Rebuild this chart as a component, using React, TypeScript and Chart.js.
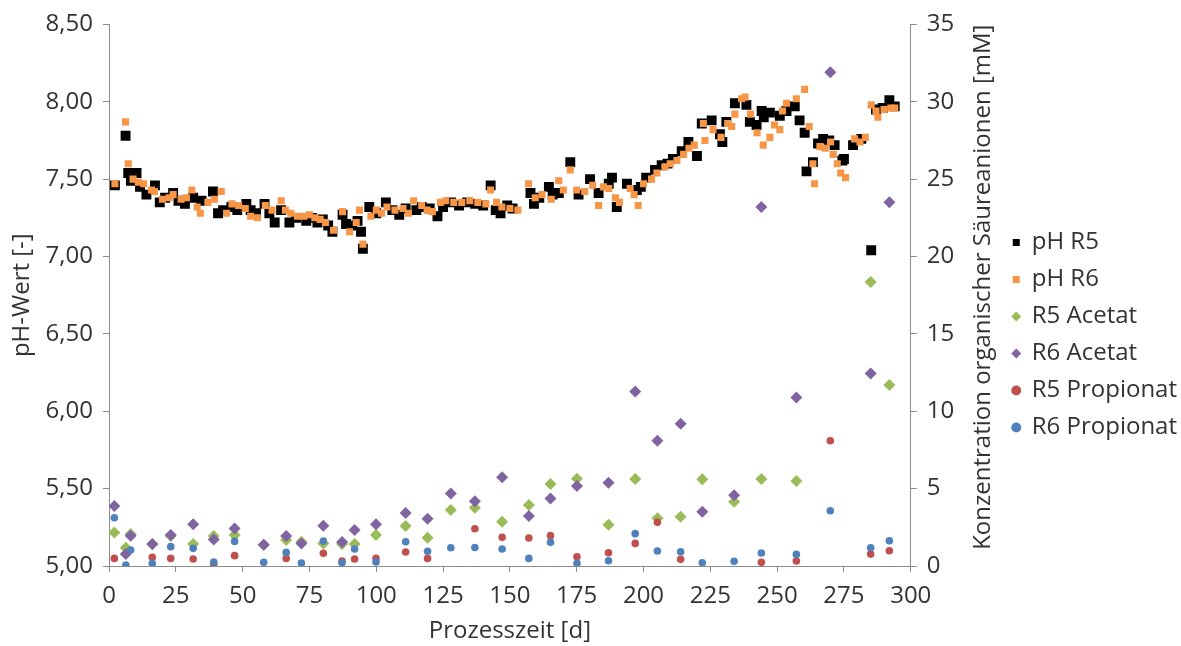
import React, { useEffect, useRef } from 'react';
import { Chart, registerables } from 'chart.js';

Chart.register(...registerables);

// ---- data ----
const phR5Days = [2.2, 6.2, 7.2, 8.2, 10.3, 11.6, 14, 17.2, 19, 21, 24, 26, 28.4, 31.5, 34.6, 38.9, 40.8, 42.7, 45.8, 48, 51.4, 53, 55, 58.2, 60, 62, 64.4, 67.5, 70, 73.8, 76, 78, 80, 82, 83.6, 87.4, 88.7, 91, 93, 94.3, 95, 97.4, 100, 103.6, 106, 108.6, 111, 115, 117, 120, 122.9, 125, 128, 131, 134, 137, 140, 142.8, 144.7, 146.5, 149, 151, 157.7, 159, 161, 164.6, 166, 168.3, 172.6, 175.7, 180, 183.2, 187, 188.2, 190, 193.8, 197.5, 199, 201, 204.3, 206.8, 209, 211, 214.3, 216.8, 220, 221.8, 225.5, 228.6, 229.5, 231, 234.2, 238.5, 239.8, 242.3, 244.2, 245, 247.3, 251, 253.5, 256.6, 258.4, 260.3, 261, 263.4, 265.3, 267.2, 269.5, 271.5, 274.4, 275, 278.4, 281.5, 285.2, 287, 289.5, 292, 294];
const phR5Values = [7.46, 7.78, 7.54, 7.49, 7.54, 7.45, 7.40, 7.46, 7.35, 7.38, 7.41, 7.36, 7.34, 7.38, 7.36, 7.42, 7.28, 7.30, 7.32, 7.30, 7.34, 7.30, 7.28, 7.34, 7.28, 7.22, 7.30, 7.22, 7.25, 7.23, 7.25, 7.22, 7.24, 7.20, 7.16, 7.27, 7.21, 7.20, 7.23, 7.16, 7.05, 7.32, 7.28, 7.35, 7.30, 7.27, 7.31, 7.30, 7.32, 7.31, 7.26, 7.32, 7.35, 7.33, 7.35, 7.34, 7.33, 7.46, 7.30, 7.28, 7.33, 7.31, 7.41, 7.34, 7.38, 7.45, 7.40, 7.41, 7.61, 7.40, 7.50, 7.41, 7.47, 7.51, 7.32, 7.47, 7.43, 7.45, 7.51, 7.56, 7.59, 7.60, 7.63, 7.68, 7.74, 7.65, 7.86, 7.88, 7.79, 7.74, 7.87, 7.99, 7.98, 7.87, 7.85, 7.94, 7.90, 7.93, 7.91, 7.94, 7.97, 7.88, 7.80, 7.55, 7.61, 7.73, 7.76, 7.75, 7.72, 7.62, 7.63, 7.72, 7.76, 7.04, 7.95, 7.96, 8.01, 7.97];

const phR6Days = [2.2, 6.2, 7.2, 9, 11, 13, 15.9, 17, 20, 22.5, 24, 27, 29, 31, 33, 34.2, 37, 39.5, 42, 44, 46, 48.5, 51, 53, 55.5, 58.5, 61, 64.4, 66, 68, 70.5, 73, 75, 77, 79, 81, 84, 87.4, 90, 92.5, 93.7, 95, 98, 100, 102, 104, 107, 110, 112, 114, 117, 119, 121, 124, 126, 129, 132, 135, 138, 141, 142.8, 145, 147, 150, 153, 157, 159.5, 162, 165.5, 168.3, 170, 172.6, 175, 178, 181, 183.2, 185, 187, 189.5, 191, 195, 196.5, 198, 200, 203, 205, 208, 210, 212.5, 215, 217, 219, 222.4, 223, 226, 229, 231.5, 233, 234.2, 236.7, 238, 240, 242.5, 244.8, 247.3, 249, 251, 252, 253.5, 257.2, 260.3, 262, 263.4, 264, 266, 268, 270, 271, 272.5, 273.8, 275.6, 279, 281, 283, 285.2, 287, 287.7, 290, 292.6, 294];
const phR6Values = [7.47, 7.87, 7.60, 7.50, 7.48, 7.47, 7.43, 7.42, 7.37, 7.38, 7.40, 7.37, 7.38, 7.43, 7.32, 7.28, 7.35, 7.37, 7.42, 7.28, 7.34, 7.33, 7.31, 7.26, 7.25, 7.33, 7.30, 7.36, 7.30, 7.28, 7.26, 7.26, 7.27, 7.25, 7.24, 7.22, 7.17, 7.29, 7.16, 7.22, 7.30, 7.08, 7.26, 7.30, 7.28, 7.32, 7.30, 7.31, 7.28, 7.36, 7.33, 7.30, 7.29, 7.35, 7.36, 7.35, 7.35, 7.36, 7.35, 7.34, 7.43, 7.35, 7.32, 7.31, 7.30, 7.47, 7.38, 7.40, 7.37, 7.49, 7.43, 7.56, 7.43, 7.42, 7.46, 7.33, 7.45, 7.44, 7.38, 7.35, 7.44, 7.40, 7.33, 7.47, 7.50, 7.54, 7.58, 7.60, 7.62, 7.66, 7.70, 7.72, 7.86, 7.75, 7.82, 7.77, 7.86, 7.84, 7.92, 8.02, 8.03, 7.92, 7.80, 7.72, 7.77, 7.85, 7.82, 7.94, 7.99, 8.02, 8.08, 7.84, 7.60, 7.47, 7.71, 7.70, 7.74, 7.66, 7.60, 7.54, 7.51, 7.76, 7.74, 7.77, 7.98, 7.94, 7.90, 7.95, 7.96, 7.96];

const acidDays = [2, 6.3, 8.1, 16.2, 23.1, 31.5, 39.2, 47, 57.9, 66.3, 72, 80.2, 87.2, 91.9, 99.9, 111, 119.2, 127.9, 136.9, 147.1, 157.1, 165.2, 175.1, 186.9, 196.9, 205.2, 213.9, 222, 233.9, 244.1, 257.2, 269.9, 285, 292];
const r5Acetat = [2.17, 1.18, 2.07, 1.40, 1.94, 1.42, 1.94, 2.0, 1.38, 1.68, 1.57, 1.46, 1.42, 1.42, 2.0, 2.58, 1.83, 3.62, 3.77, 2.86, 3.94, 5.30, 5.64, 2.67, 5.62, 3.08, 3.18, 5.60, 4.15, 5.62, 5.49, null, 18.36, 11.69];
const r6Acetat = [3.87, 0.77, 1.96, 1.42, 2.0, 2.69, 1.72, 2.43, 1.38, 1.94, 1.46, 2.60, 1.55, 2.32, 2.69, 3.42, 3.06, 4.69, 4.18, 5.73, 3.23, 4.37, 5.17, 5.38, 11.28, 8.09, 9.19, 3.51, 4.58, 23.2, 10.89, 31.9, 12.44, 23.5];
const r5Propionat = [0.49, null, null, 0.56, 0.49, 0.45, 0.13, 0.67, null, 0.49, null, 0.82, 0.32, 0.45, 0.49, 0.90, 0.49, null, 2.41, 1.85, 1.81, 1.96, 0.60, 0.86, 1.46, 2.82, 0.43, null, null, 0.24, 0.32, 8.09, 0.77, 0.99];
const r6Propionat = [3.12, 0.06, 1.03, 0.17, 1.25, 1.14, 0.26, 1.59, 0.24, 0.88, 0.19, 1.61, 0.21, 1.10, 0.26, 1.57, 0.95, 1.18, 1.20, 1.10, 0.49, 1.53, 0.17, 0.34, 2.09, 0.97, 0.92, 0.21, 0.30, 0.84, 0.75, 3.57, 1.18, 1.63];

const seriesNames = ['pH R5', 'pH R6', 'R5 Acetat', 'R6 Acetat', 'R5 Propionat', 'R6 Propionat'];
const xTitle = 'Prozesszeit [d]';
const yTitle = 'pH-Wert [-]';
const y2Title = 'Konzentration organischer Säureanionen [mM]';

const FONT = "'Open Sans', sans-serif";
const TEXT = '#333333';
const AXIS = '#8c8c8c';

const pts = (xs: number[], ys: (number | null)[]) =>
  xs.map((x, i) => ({ x, y: ys[i] })).filter((p) => p.y !== null);

const rightTitlePlugin = {
  id: 'rightTitle',
  afterDraw(chart: any) {
    const { ctx, chartArea } = chart;
    ctx.save();
    ctx.font = `24px ${FONT}`;
    ctx.fillStyle = TEXT;
    ctx.textAlign = 'center';
    ctx.textBaseline = 'middle';
    ctx.translate(chartArea.right + 72, (chartArea.top + chartArea.bottom) / 2 - 8);
    ctx.rotate(-Math.PI / 2);
    ctx.fillText(y2Title, 0, 0);
    ctx.restore();
  },
};

export default function App() {
  const ref = useRef<HTMLCanvasElement | null>(null);

  useEffect(() => {
    document.body.style.margin = '0';
    if (!ref.current) return;
    Chart.defaults.font.family = FONT;
    Chart.defaults.color = TEXT;

    const mk = (label: string, data: any[], color: string, style: string, radius: number, yAxisID: string, order: number) => ({
      label,
      data,
      backgroundColor: color,
      borderColor: color,
      pointStyle: style,
      pointRadius: radius,
      pointHoverRadius: radius,
      pointBorderWidth: 0,
      borderWidth: 0,
      yAxisID,
      order,
    });

    const chart = new Chart(ref.current, {
      type: 'scatter',
      data: {
        datasets: [
          mk(seriesNames[0], pts(phR5Days, phR5Values), '#000000', 'rect', 7, 'y', 6),
          mk(seriesNames[1], pts(phR6Days, phR6Values), '#F79646', 'rect', 5, 'y', 5),
          mk(seriesNames[2], pts(acidDays, r5Acetat), '#9BBB59', 'rectRot', 6, 'y2', 4),
          mk(seriesNames[3], pts(acidDays, r6Acetat), '#8064A2', 'rectRot', 6, 'y2', 3),
          mk(seriesNames[4], pts(acidDays, r5Propionat), '#C0504D', 'circle', 3.8, 'y2', 2),
          mk(seriesNames[5], pts(acidDays, r6Propionat), '#4F81BD', 'circle', 3.8, 'y2', 1),
        ] as any,
      },
      options: {
        animation: false,
        responsive: false,
        layout: { padding: { top: 24, left: 0, right: -6, bottom: 0 } },
        plugins: {
          tooltip: { enabled: false },
          legend: {
            position: 'right',
            align: 'center',
            labels: {
              usePointStyle: true,
              boxWidth: 7,
              boxHeight: 7,
              padding: 13,
              color: TEXT,
              font: { size: 24, family: FONT },
              sort: (a: any, b: any) => a.datasetIndex - b.datasetIndex,
            },
          },
        },
        scales: {
          x: {
            type: 'linear',
            position: 'bottom',
            min: 0,
            max: 300,
            ticks: { stepSize: 25, padding: 10, color: TEXT, font: { size: 24 } },
            grid: { drawOnChartArea: false, drawTicks: true, tickLength: 6, color: AXIS },
            border: { color: AXIS, width: 1 },
            title: { display: true, text: xTitle, color: TEXT, font: { size: 24 }, padding: { top: 0, bottom: 0 } },
            afterFit: (s: any) => { s.height = 80; },
          },
          y: {
            type: 'linear',
            position: 'left',
            min: 5,
            max: 8.5,
            ticks: {
              stepSize: 0.5,
              padding: 10,
              color: TEXT,
              font: { size: 24 },
              callback: (v: any) => Number(v).toFixed(2).replace('.', ','),
            },
            grid: { drawOnChartArea: false, drawTicks: true, tickLength: 6, color: AXIS },
            border: { color: AXIS, width: 1 },
            title: { display: true, text: yTitle, color: TEXT, font: { size: 24 }, padding: { top: 8, bottom: 0 } },
            afterFit: (s: any) => { s.width = 109; },
          },
          y2: {
            type: 'linear',
            position: 'right',
            min: 0,
            max: 35,
            ticks: { stepSize: 5, padding: 10, color: TEXT, font: { size: 24 } },
            grid: { drawOnChartArea: false, drawTicks: true, tickLength: 6, color: AXIS },
            border: { color: AXIS, width: 1 },
            afterFit: (s: any) => { s.width = 89; },
          },
        },
      } as any,
      plugins: [rightTitlePlugin],
    });
    return () => chart.destroy();
  }, []);

  return (
    <div style={{ width: 1181, height: 646 }}>
      <canvas ref={ref} width={1181} height={646} style={{ display: 'block' }} />
    </div>
  );
}
